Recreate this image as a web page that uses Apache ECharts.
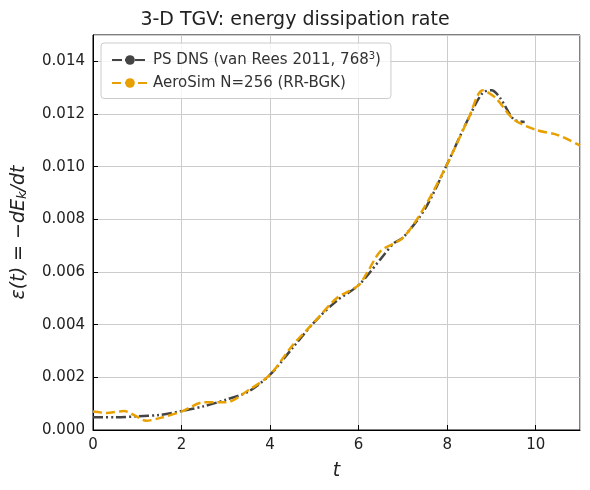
<!DOCTYPE html>
<html>
<head>
<meta charset="UTF-8">
<script src="https://cdn.jsdelivr.net/npm/echarts@6/dist/echarts.min.js"></script>
<style>body{margin:0;background:#fff}#c{width:590px;height:490px}</style>
</head>
<body>
<div id="c"></div>
<script>
// PS DNS reference
var dnsT = [0, 0.5, 1, 1.5, 2, 2.5, 3, 3.5, 4, 4.5, 5, 5.5, 6, 6.5, 6.8, 7, 7.5, 8, 8.5, 8.8, 9.0, 9.2, 9.5, 9.75];
var dnsE = [0.00048, 0.00048, 0.00052, 0.00057, 0.00072, 0.0009, 0.00115, 0.00145, 0.0021, 0.0031, 0.0041, 0.0049, 0.0055, 0.0065, 0.0071, 0.0073, 0.0084, 0.0101, 0.0119, 0.0128, 0.0129, 0.0126, 0.0118, 0.0117];
// AeroSim N=256
var aeroT = [0, 0.3, 0.7, 1.0, 1.2, 1.5, 2, 2.5, 3, 3.5, 4, 4.5, 5, 5.5, 6, 6.2, 6.5, 7, 7.5, 8, 8.5, 8.8, 9.1, 9.5, 10, 10.5, 11];
var aeroE = [0.0007, 0.00065, 0.00072, 0.0005, 0.00035, 0.00045, 0.0007, 0.00105, 0.00105, 0.0015, 0.0021, 0.0032, 0.0041, 0.005, 0.0055, 0.006, 0.0068, 0.0073, 0.0085, 0.0101, 0.0119, 0.0129, 0.0126, 0.0118, 0.0114, 0.0112, 0.0108];

function pairs(t, e) { return t.map(function (v, i) { return [v, e[i]]; }); }

var chart = echarts.init(document.getElementById('c'));
var font = 'DejaVu Sans';
chart.setOption({
  animation: false,
  textStyle: { fontFamily: font },
  title: { text: '3-D TGV: energy dissipation rate', left: 'center', top: 6,
    textStyle: { fontFamily: font, fontSize: 19, fontWeight: 'normal', color: '#222' } },
  grid: { left: 93, right: 10, top: 35, bottom: 60, show: true, borderColor: '#000', borderWidth: 1 },
  legend: {
    left: 101, top: 43, orient: 'vertical', itemWidth: 36, itemHeight: 12, itemGap: 8,
    padding: [8, 10], borderColor: '#ccc', borderWidth: 1, borderRadius: 3,
    backgroundColor: 'rgba(255,255,255,0.8)',
    textStyle: { fontSize: 15, color: '#333', rich: { sup: { fontSize: 10, verticalAlign: 'top', padding: [0, 0, 8, 0] } } },
    formatter: function (n) { return n.indexOf('768') >= 0 ? 'PS DNS (van Rees 2011, 768{sup|3})' : n; },
    data: ['PS DNS (van Rees 2011, 768³)', 'AeroSim N=256 (RR-BGK)']
  },
  xAxis: {
    type: 'value', min: 0, max: 11, interval: 2,
    name: 't', nameLocation: 'middle', nameGap: 32,
    nameTextStyle: { fontSize: 19, fontStyle: 'italic', color: '#222' },
    axisLine: { lineStyle: { color: '#000' } },
    axisTick: { inside: true, lineStyle: { color: '#000' } },
    axisLabel: { fontSize: 15, color: '#222', showMaxLabel: false },
    splitLine: { show: true, lineStyle: { color: '#ccc' } }
  },
  yAxis: {
    type: 'value', min: 0, max: 0.015, interval: 0.002,
    nameLocation: 'middle', nameGap: 64,
    axisLine: { show: true, lineStyle: { color: '#000' } },
    axisTick: { inside: true, lineStyle: { color: '#000' } },
    axisLabel: { fontSize: 15, color: '#222', showMaxLabel: false, formatter: function (v) { return v.toFixed(3); } },
    splitLine: { show: true, lineStyle: { color: '#ccc' } },
    name: '{i|ε(t) = −dE}{s|k}{i|/dt}',
    nameTextStyle: { rich: { i: { fontSize: 19, fontStyle: 'italic', color: '#222' },
      s: { fontSize: 13, fontStyle: 'italic', color: '#222', verticalAlign: 'bottom', padding: [6, 0, 0, 0] } } }
  },
  series: [
    { name: 'PS DNS (van Rees 2011, 768³)', type: 'line', smooth: 0.3, showSymbol: false, symbol: 'none',
      data: pairs(dnsT, dnsE), color: '#444',
      lineStyle: { width: 2.5, color: '#444', type: [10, 3, 2, 3, 2, 3] } },
    { name: 'AeroSim N=256 (RR-BGK)', type: 'line', smooth: 0.3, showSymbol: false, symbol: 'none',
      data: pairs(aeroT, aeroE), color: '#e8a000',
      lineStyle: { width: 2.5, color: '#e8a000', type: [9, 4] } }
  ]
});
</script>
</body>
</html>
